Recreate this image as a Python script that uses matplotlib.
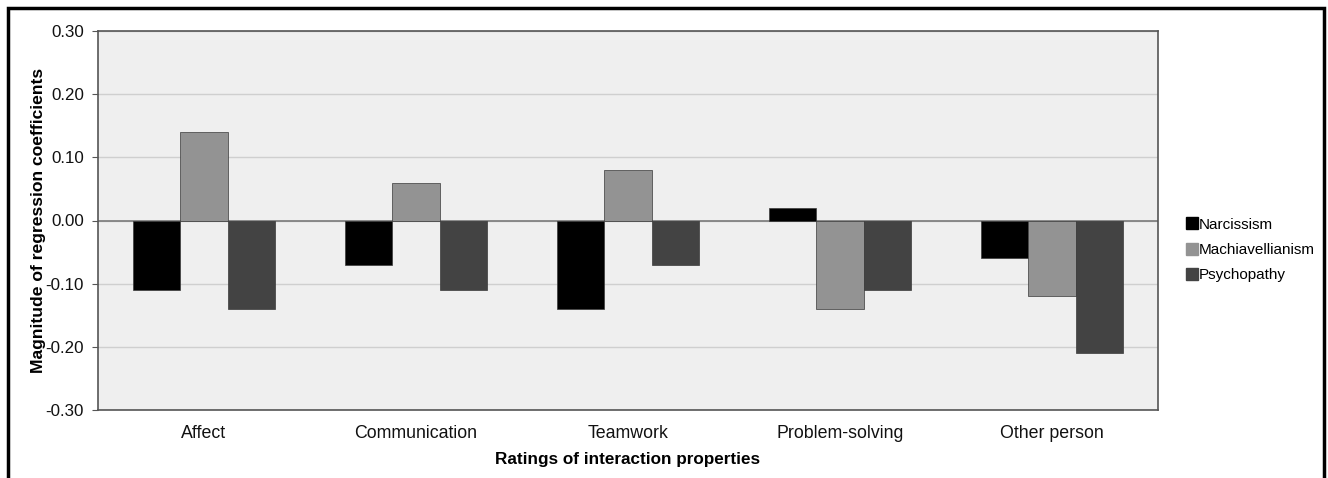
import numpy as np
import matplotlib
matplotlib.use('Agg')
import matplotlib.pyplot as plt
from matplotlib.patches import Rectangle
from matplotlib.lines import Line2D

plt.rcParams['font.family'] = ['Liberation Sans', 'DejaVu Sans']

categories = ['Affect', 'Communication', 'Teamwork', 'Problem-solving', 'Other person']
series_names = ['Narcissism', 'Machiavellianism', 'Psychopathy']
narcissism = [-0.11, -0.07, -0.14, 0.02, -0.06]
machiavellianism = [0.14, 0.06, 0.08, -0.14, -0.12]
psychopathy = [-0.14, -0.11, -0.07, -0.11, -0.21]
yticks = [-0.30, -0.20, -0.10, 0.00, 0.10, 0.20, 0.30]

colors = ['#000000', '#939393', '#434343']

fig = plt.figure(figsize=(13.28, 4.78), dpi=100)
ax = fig.add_axes([98/1328, 1-410/478, (1158-98)/1328, (410-31)/478])
ax.set_facecolor('#efefef')

x = np.arange(len(categories))
w = 1/4.5
for i, (vals, col) in enumerate(zip([narcissism, machiavellianism, psychopathy], colors)):
    ax.bar(x + (i-1)*w, vals, width=w, color=col, edgecolor='#3a3a3a', linewidth=0.5, zorder=3)

ax.set_xlim(-0.5, len(categories)-0.5)
ax.set_ylim(-0.30, 0.30)
ax.set_yticks(yticks)
ax.set_yticklabels(['%.2f' % v for v in yticks], fontsize=12.2, color='#111111')
ax.set_xticks(x)
ax.set_xticklabels(categories, fontsize=12.8, color='#111111')
ax.tick_params(axis='x', length=0, pad=11)
ax.tick_params(axis='y', length=4, direction='out', color='#555555', pad=6)
ax.yaxis.grid(True, color='#cfcfcf', linewidth=1, zorder=0)
ax.axhline(0, color='#7a7a7a', linewidth=1.2, zorder=2)
for s in ax.spines.values():
    s.set_color('#555555')
    s.set_linewidth(1.2)

ax.set_ylabel('Magnitude of regression coefficients', fontsize=12.6, fontweight='bold', labelpad=0)
ax.set_xlabel('Ratings of interaction properties', fontsize=12.3, fontweight='bold', labelpad=7)

handles = [Line2D([], [], marker='s', linestyle='none', markersize=8, color=c) for c in colors]
fig.legend(handles, series_names, loc='center left', bbox_to_anchor=(1180/1328, 1-250/478),
           frameon=False, fontsize=11, handlelength=0.6, handletextpad=0.15, labelspacing=0.75,
           borderpad=0)

# outer frame around the figure (bottom is cut off)
fig.patches.append(Rectangle((8/1328, -0.05), (1324-8)/1328, 1.05-8/478, transform=fig.transFigure,
                             fill=False, edgecolor='black', linewidth=2.5))

fig.savefig('out.png', dpi=100, facecolor='white')
